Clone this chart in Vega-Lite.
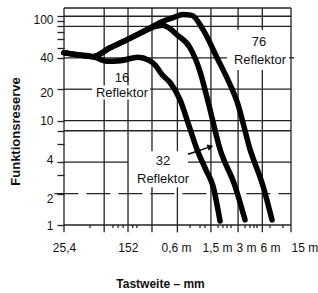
{
  "$schema": "https://vega.github.io/schema/vega-lite/v6.json",
  "width": 227,
  "height": 217,
  "autosize": {"type": "none"},
  "padding": {"left": 64, "top": 8, "right": 27, "bottom": 68},
  "background": "white",
  "config": {
    "view": {"stroke": null},
    "font": "Liberation Sans, Arial, sans-serif"
  },
  "datasets": {
    "hgrid": [
      {"v": 120, "x1": 25.4, "x2": 13000},
      {"v": 100, "x1": 25.4, "x2": 13000},
      {"v": 80, "x1": 25.4, "x2": 13000},
      {"v": 40, "x1": 25.4, "x2": 2239},
      {"v": 40, "x1": 12300, "x2": 14200},
      {"v": 20, "x1": 25.4, "x2": 54.8},
      {"v": 20, "x1": 270, "x2": 13000},
      {"v": 10, "x1": 25.4, "x2": 13000},
      {"v": 8, "x1": 25.4, "x2": 13000},
      {"v": 4, "x1": 25.4, "x2": 147.5},
      {"v": 4, "x1": 767, "x2": 13000},
      {"v": 1, "x1": 25.4, "x2": 13000}
    ],
    "dashed": [
      {"v": 2, "x1": 19.5, "x2": 13000}
    ],
    "vgrid": [
      {"x": 25.4, "v1": 0.85, "v2": 120},
      {"x": 76.6, "v1": 0.85, "v2": 15.9},
      {"x": 76.6, "v1": 21.7, "v2": 120},
      {"x": 147.5, "v1": 0.85, "v2": 15.9},
      {"x": 147.5, "v1": 21.7, "v2": 120},
      {"x": 285, "v1": 0.85, "v2": 2.3},
      {"x": 285, "v1": 5.08, "v2": 120},
      {"x": 573, "v1": 0.85, "v2": 2.3},
      {"x": 573, "v1": 5.08, "v2": 120},
      {"x": 1440, "v1": 0.85, "v2": 120},
      {"x": 3036, "v1": 0.85, "v2": 30.6},
      {"x": 3036, "v1": 74.4, "v2": 120},
      {"x": 5910, "v1": 0.85, "v2": 30.6},
      {"x": 5910, "v1": 74.4, "v2": 120},
      {"x": 13000, "v1": 0.85, "v2": 120},
      {"x": 51.9, "v1": 0.936, "v2": 1},
      {"x": 97.6, "v1": 0.936, "v2": 1},
      {"x": 112, "v1": 0.936, "v2": 1},
      {"x": 129, "v1": 0.936, "v2": 1},
      {"x": 168, "v1": 0.936, "v2": 1},
      {"x": 188, "v1": 0.936, "v2": 1},
      {"x": 811, "v1": 0.936, "v2": 1},
      {"x": 1067, "v1": 0.936, "v2": 1},
      {"x": 1224, "v1": 0.936, "v2": 1},
      {"x": 1749, "v1": 0.936, "v2": 1},
      {"x": 2006, "v1": 0.936, "v2": 1},
      {"x": 2239, "v1": 0.936, "v2": 1},
      {"x": 2500, "v1": 0.936, "v2": 1},
      {"x": 3673, "v1": 0.936, "v2": 1},
      {"x": 4217, "v1": 0.936, "v2": 1},
      {"x": 4699, "v1": 0.936, "v2": 1},
      {"x": 5105, "v1": 0.936, "v2": 1},
      {"x": 7295, "v1": 0.936, "v2": 1},
      {"x": 10420, "v1": 0.936, "v2": 1}
    ],
    "curves": [
      {"s": "16", "x": 25.4, "v": 44.8},
      {"s": "16", "x": 36.3, "v": 42.8},
      {"s": "16", "x": 56.4, "v": 41},
      {"s": "16", "x": 82.8, "v": 37},
      {"s": "16", "x": 120, "v": 37.5},
      {"s": "16", "x": 194, "v": 40.5},
      {"s": "16", "x": 260, "v": 38},
      {"s": "16", "x": 310, "v": 34.2},
      {"s": "16", "x": 375, "v": 27.6},
      {"s": "16", "x": 468, "v": 23.2},
      {"s": "16", "x": 615, "v": 15.9},
      {"s": "16", "x": 800, "v": 8.6},
      {"s": "16", "x": 982, "v": 5.3},
      {"s": "16", "x": 1250, "v": 3.4},
      {"s": "16", "x": 1524, "v": 2.36},
      {"s": "16", "x": 1849, "v": 1.09},
      {"s": "32", "x": 25.4, "v": 44.8},
      {"s": "32", "x": 36.3, "v": 42.8},
      {"s": "32", "x": 56.4, "v": 41},
      {"s": "32", "x": 90, "v": 49.9},
      {"s": "32", "x": 143.5, "v": 59.6},
      {"s": "32", "x": 222.8, "v": 71},
      {"s": "32", "x": 300, "v": 79},
      {"s": "32", "x": 380, "v": 82},
      {"s": "32", "x": 468, "v": 76},
      {"s": "32", "x": 566, "v": 66.5},
      {"s": "32", "x": 811, "v": 49.9},
      {"s": "32", "x": 1067, "v": 29.5},
      {"s": "32", "x": 1328, "v": 15.3},
      {"s": "32", "x": 1849, "v": 5.31},
      {"s": "32", "x": 2793, "v": 2.36},
      {"s": "32", "x": 3673, "v": 1.12},
      {"s": "76", "x": 25.4, "v": 44.8},
      {"s": "76", "x": 36.3, "v": 42.8},
      {"s": "76", "x": 56.4, "v": 41},
      {"s": "76", "x": 90, "v": 49.9},
      {"s": "76", "x": 143.5, "v": 59.6},
      {"s": "76", "x": 222.8, "v": 71},
      {"s": "76", "x": 300, "v": 81},
      {"s": "76", "x": 380, "v": 89},
      {"s": "76", "x": 508, "v": 97},
      {"s": "76", "x": 668, "v": 104},
      {"s": "76", "x": 855, "v": 102},
      {"s": "76", "x": 1159, "v": 74.4},
      {"s": "76", "x": 1702, "v": 40.1},
      {"s": "76", "x": 2432, "v": 22.2},
      {"s": "76", "x": 2946, "v": 15.3},
      {"s": "76", "x": 4217, "v": 5.31},
      {"s": "76", "x": 6026, "v": 2.36},
      {"s": "76", "x": 7709, "v": 1.12}
    ],
    "labels": [
      {"x": 125, "v": 25.8, "t": "16"},
      {"x": 125, "v": 18.6, "t": "Reflektor"},
      {"x": 5395, "v": 57, "t": "76"},
      {"x": 5546, "v": 38.4, "t": "Reflektor"},
      {"x": 386, "v": 4.08, "t": "32"},
      {"x": 386, "v": 2.75, "t": "Reflektor"}
    ],
    "arrow": [
      {"x": 767, "v": 4.76},
      {"x": 1400, "v": 5.6}
    ],
    "head": [
      {"x": 1420, "v": 5.63}
    ]
  },
  "layer": [
    {
      "data": {"name": "hgrid"},
      "mark": {"type": "rule", "color": "#222", "strokeWidth": 1.3},
      "encoding": {
        "x": {
          "field": "x1", "type": "quantitative",
          "scale": {"type": "log", "domain": [25.4, 13000], "nice": false},
          "axis": {
            "title": "Tastweite – mm",
            "values": [25.4, 147, 552, 1702, 3776, 7295, 13000],
            "labelExpr": "datum.value < 30 ? '25,4' : datum.value < 200 ? '152' : datum.value < 1000 ? '0,6 m' : datum.value < 2500 ? '1,5 m' : datum.value < 5000 ? '3 m' : datum.value < 10000 ? '6 m' : '15 m'",
            "ticks": false, "tickSize": 0, "domain": false, "grid": false,
            "labelPadding": 17, "labelFontSize": 12, "labelColor": "#111",
            "labelOverlap": false, "labelFlush": false,
            "labelAlign": {"condition": {"test": "datum.value > 10000", "value": "left"}, "value": "center"},
            "titleFontSize": 12, "titleFontWeight": "bold", "titleColor": "#111",
            "titleX": 96, "titleY": 58, "titleBaseline": "middle"
          }
        },
        "x2": {"field": "x2"},
        "y": {
          "field": "v", "type": "quantitative",
          "scale": {"type": "log", "domain": [1, 120], "nice": false},
          "axis": {
            "title": "Funktionsreserve",
            "values": [1, 2, 3, 4, 6, 8, 10, 20, 40, 50, 60, 70, 80, 90, 100],
            "labelExpr": "indexof([1,2,4,10,20,40,100], datum.value) >= 0 ? datum.label : ''",
            "grid": false, "domain": false, "ticks": true, "tickSize": 7, "tickColor": "#222", "tickWidth": 1.3,
            "labelPadding": 4, "labelFontSize": 12, "labelColor": "#111", "labelOverlap": false, "labelFlush": false,
            "labelOffset": {"condition": [{"test": "datum.value == 2", "value": 5}, {"test": "datum.value == 4", "value": -3}, {"test": "datum.value == 20", "value": 3}, {"test": "datum.value == 100", "value": 3}], "value": 0},
            "titleFontSize": 13, "titleFontWeight": "bold", "titleColor": "#111",
            "titleX": -49, "titleY": 123, "titleBaseline": "middle", "titleAlign": "center"
          }
        }
      }
    },
    {
      "data": {"name": "dashed"},
      "mark": {"type": "rule", "color": "#222", "strokeWidth": 1.3, "strokeDash": [24, 8]},
      "encoding": {
        "x": {"field": "x1", "type": "quantitative"},
        "x2": {"field": "x2"},
        "y": {"field": "v", "type": "quantitative"}
      }
    },
    {
      "data": {"name": "vgrid"},
      "mark": {"type": "rule", "color": "#222", "strokeWidth": 1.3},
      "encoding": {
        "x": {"field": "x", "type": "quantitative"},
        "y": {"field": "v1", "type": "quantitative"},
        "y2": {"field": "v2"}
      }
    },
    {
      "data": {"name": "curves"},
      "mark": {"type": "line", "interpolate": "monotone", "strokeWidth": 5.5, "color": "#000", "strokeCap": "round", "strokeJoin": "round"},
      "encoding": {
        "x": {"field": "x", "type": "quantitative"},
        "y": {"field": "v", "type": "quantitative"},
        "detail": {"field": "s"}
      }
    },
    {
      "data": {"name": "labels"},
      "mark": {"type": "text", "fontSize": 13, "color": "#111", "align": "center", "baseline": "middle"},
      "encoding": {
        "x": {"field": "x", "type": "quantitative"},
        "y": {"field": "v", "type": "quantitative"},
        "text": {"field": "t"}
      }
    },
    {
      "data": {"name": "arrow"},
      "mark": {"type": "line", "color": "#000", "strokeWidth": 1.5},
      "encoding": {
        "x": {"field": "x", "type": "quantitative"},
        "y": {"field": "v", "type": "quantitative"}
      }
    },
    {
      "data": {"name": "head"},
      "mark": {"type": "point", "shape": "triangle-right", "filled": true, "color": "#000", "size": 45, "angle": -19, "opacity": 1},
      "encoding": {
        "x": {"field": "x", "type": "quantitative"},
        "y": {"field": "v", "type": "quantitative"}
      }
    }
  ]
}
